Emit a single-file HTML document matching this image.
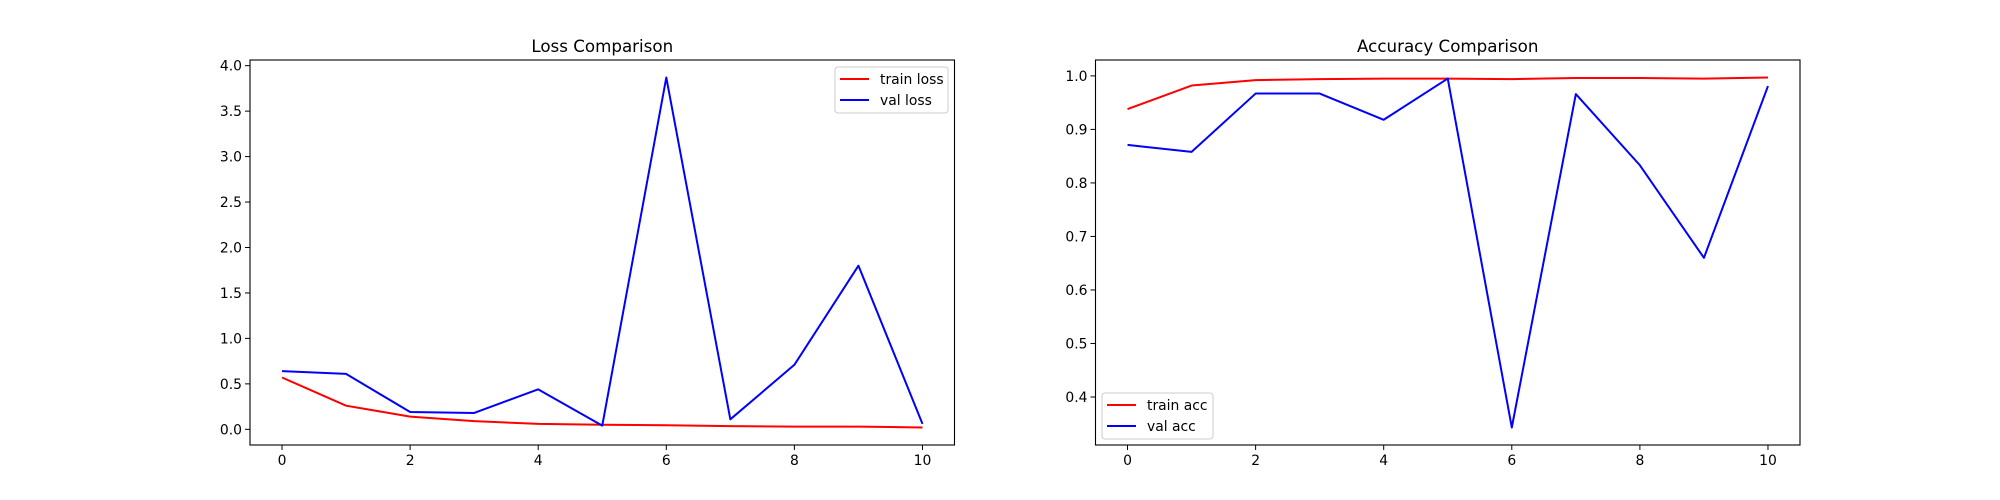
<!DOCTYPE html>
<html><head><meta charset="utf-8"><style>
html,body{margin:0;padding:0;background:#fff;}
svg{display:block;font-family:"DejaVu Sans","Liberation Sans",sans-serif;}
</style></head><body>
<svg id="fig" width="2000" height="500" xmlns="http://www.w3.org/2000/svg"></svg>
<script>
const epochs = [0,1,2,3,4,5,6,7,8,9,10];
const trainLoss = [0.57,0.26,0.14,0.09,0.06,0.05,0.045,0.035,0.03,0.03,0.02];
const valLoss = [0.64,0.61,0.19,0.18,0.44,0.04,3.87,0.11,0.71,1.80,0.06];
const trainAcc = [0.938,0.982,0.992,0.994,0.995,0.995,0.994,0.996,0.996,0.995,0.997];
const valAcc = [0.871,0.858,0.967,0.967,0.918,0.995,0.343,0.966,0.833,0.660,0.981];
const xTicks = [0,2,4,6,8,10];
const lossTicks = [0.0,0.5,1.0,1.5,2.0,2.5,3.0,3.5,4.0];
const accTicks = [0.4,0.5,0.6,0.7,0.8,0.9,1.0];

const NS="http://www.w3.org/2000/svg";
const svg=document.getElementById('fig');
function mk(tag,attrs,parent){const e=document.createElementNS(NS,tag);for(const k in attrs)e.setAttribute(k,attrs[k]);(parent||svg).appendChild(e);return e;}

function panel(cfg){
  const g=mk('g',{});
  
  
  const L=cfg.left,R=cfg.left+704.5,T=60,B=445;
  const all=cfg.series.flatMap(s=>s.data);
  const mn=Math.min(...all),mx=Math.max(...all),m=(mx-mn)*0.05;
  const y0=mn-m,y1=mx+m;
  const xs=v=>L+(v+0.5)/11*(R-L);
  const ys=v=>B-(v-y0)/(y1-y0)*(B-T);
  // ticks
  xTicks.forEach(t=>{
    const x=xs(t);
    const l=mk('line',{x1:x,x2:x,y1:B,y2:B+5,stroke:'#000','stroke-width':1},g);
    
    
    const tx=mk('text',{x:x,y:B+20,'font-size':13.9,'text-anchor':'middle',fill:'#000'},g);
    tx.textContent=String(t);
    
    
  });
  cfg.yTicks.forEach(t=>{
    const y=ys(t);
    const l=mk('line',{x1:L-5,x2:L,y1:y,y2:y,stroke:'#000','stroke-width':1},g);
    
    
    const tx=mk('text',{x:L-8,y:y+5,'font-size':13.9,'text-anchor':'end',fill:'#000'},g);
    tx.textContent=t.toFixed(1);
    
    
  });
  // series
  cfg.series.forEach(s=>{
    const p=mk('polyline',{points:s.data.map((v,i)=>xs(epochs[i])+','+ys(v)).join(' '),fill:'none',stroke:s.color,'stroke-width':2,'stroke-linejoin':'round'},g);
    
    
  });
  const fr=mk('rect',{x:L,y:T,width:R-L,height:B-T,fill:'none',stroke:'#000','stroke-width':1.1},g);
  
  
  const ti=mk('text',{x:(L+R)/2,y:T-8,'font-size':16.7,'text-anchor':'middle',fill:'#000'},g);
  ti.textContent=cfg.title;
  
  
  // legend
  const lg=mk('g',{},g);
  
  
  const lx=cfg.legend[0],ly=cfg.legend[1];
  mk('rect',{x:lx,y:ly,width:cfg.legend[2],height:46,rx:3,fill:'#fff','fill-opacity':0.8,stroke:'#ccc','stroke-width':1},lg);
  cfg.series.forEach((s,i)=>{
    const yy=ly+12+i*21;
    const e=mk('g',{},lg);
    
    
    mk('line',{x1:lx+5,x2:lx+34,y1:yy,y2:yy,stroke:s.color,'stroke-width':2},e);
    const t=mk('text',{x:lx+45,y:yy+5,'font-size':13.9,fill:'#000'},e);
    t.textContent=s.label;
  });
}
panel({name:'loss-chart',left:250,title:'Loss Comparison',yTicks:lossTicks,legend:[835,67,113],
  series:[{data:trainLoss,color:'#ff0000',label:'train loss'},{data:valLoss,color:'#0000ff',label:'val loss'}]});
panel({name:'accuracy-chart',left:1095.5,title:'Accuracy Comparison',yTicks:accTicks,legend:[1102,393,111],
  series:[{data:trainAcc,color:'#ff0000',label:'train acc'},{data:valAcc,color:'#0000ff',label:'val acc'}]});
</script>
</body></html>
